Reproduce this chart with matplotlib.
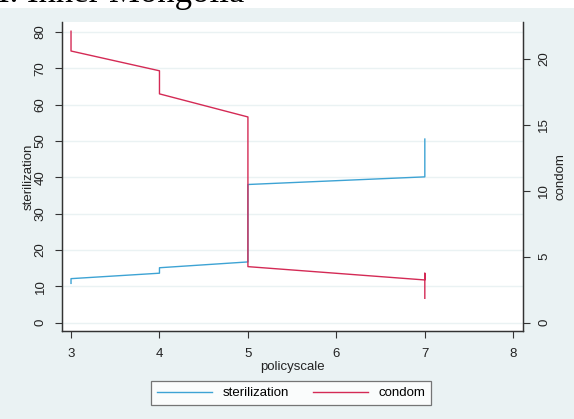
"""Inner Mongolia: sterilization vs condom by policyscale (two y axes, Stata style)."""
import matplotlib
matplotlib.use("Agg")
import matplotlib.pyplot as plt
from matplotlib.patches import Rectangle

# values
policy_ster = [3, 3, 4, 4, 5, 5, 7, 7]
sterilization = [10.8, 12.1, 13.6, 15.1, 16.7, 38.0, 40.1, 50.5]
policy_cond = [3, 3, 4, 4, 5, 5, 7, 7, 7]
condom = [22.1, 20.6, 19.1, 17.35, 15.6, 4.25, 3.24, 3.75, 1.85]

x_ticks = [3, 4, 5, 6, 7, 8]
left_ticks = [0, 10, 20, 30, 40, 50, 60, 70, 80]
right_ticks = [0, 5, 10, 15, 20]

BG = "#eaf2f3"
BLUE = "#3da3d4"
RED = "#d42a55"
AXC = "#333333"

plt.rcParams["font.family"] = ["Liberation Sans", "DejaVu Sans"]
plt.rcParams["font.size"] = 9.5

W, H = 574, 419
fig = plt.figure(figsize=(W / 100, H / 100), dpi=100, facecolor="white")
fig.patches.append(Rectangle((0, 0), 1, 1 - 8 / H, transform=fig.transFigure,
                             facecolor=BG, edgecolor="none", zorder=-10))
# heading of the page, cut off at the top like in the source screenshot
fig.text(-2 / W, 1 - 1.5 / H, "I. Inner Mongolia", family="Liberation Serif",
         fontsize=25, va="baseline", ha="left")

ax = fig.add_axes([62 / W, 1 - 331 / H, (523 - 62) / W, (331 - 22) / H])
ax.set_facecolor("white")
ax2 = ax.twinx()

l1, = ax.plot(policy_ster, sterilization, color=BLUE, lw=1.0, label="sterilization")
l2, = ax2.plot(policy_cond, condom, color=RED, lw=1.0, label="condom")

ax.set_xlim(2.898, 8.11)
ax.set_ylim(-2.3, 82.7)
ax2.set_ylim(-0.63, 22.8)
ax.set_xticks(x_ticks)
ax.set_yticks(left_ticks)
ax2.set_yticks(right_ticks)

ax.grid(axis="y", color=BG, lw=1.0)
ax.set_axisbelow(True)

for a in (ax, ax2):
    a.spines["top"].set_visible(False)
    for s in ("left", "right", "bottom"):
        a.spines[s].set_color(AXC)
        a.spines[s].set_linewidth(0.9)
    a.tick_params(colors=AXC, labelcolor="#222222", length=5, width=0.8)

ax.tick_params(axis="x", pad=7)
ax.tick_params(axis="y", labelrotation=90, pad=6)
ax2.tick_params(axis="y", labelrotation=90, pad=6)
for t in ax.get_yticklabels() + ax2.get_yticklabels():
    t.set_va("center")

ax.set_xlabel("policyscale", labelpad=1, color="#222222")
ax.set_ylabel("sterilization", labelpad=0, color="#222222")
ax2.set_ylabel("condom", labelpad=3, color="#222222", rotation=90)

leg = fig.legend([l1, l2], ["sterilization", "condom"], ncol=2,
                 loc="center", bbox_to_anchor=(291 / W, 1 - 393 / H),
                 frameon=True, fancybox=False, handlelength=4.2,
                 columnspacing=1.8, handletextpad=0.8, borderpad=0.45)
leg.get_frame().set_edgecolor("#555555")
leg.get_frame().set_linewidth(0.9)

fig.savefig("out.png", dpi=100, facecolor=fig.get_facecolor())
